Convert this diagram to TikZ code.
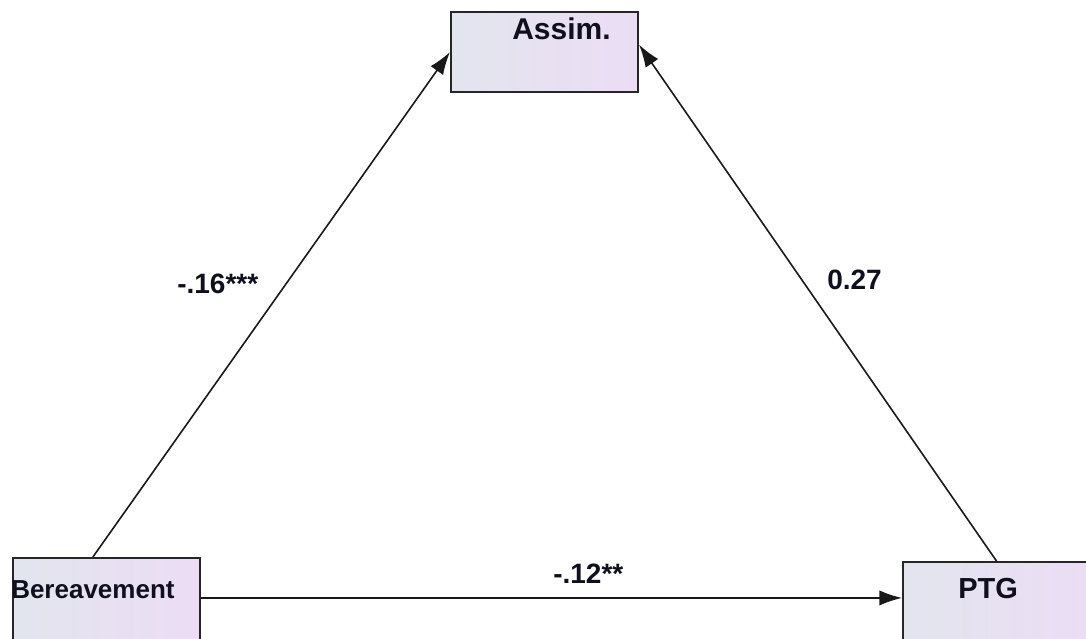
\documentclass[tikz,border=0pt]{standalone}
\usepackage{fontspec}
\setmainfont{Liberation Sans}
\usetikzlibrary{calc,arrows.meta}
\definecolor{boxleft}{RGB}{226,229,238}
\definecolor{boxright}{RGB}{236,221,245}
\definecolor{txt}{RGB}{15,15,30}
\tikzset{
  varbox/.style={draw=black!85, line width=1.5pt, rectangle, inner sep=0pt,
    left color=boxleft, right color=boxright},
  vartext/.style={anchor=base west, inner sep=0pt, text=txt, font=\bfseries},
  coef/.style={anchor=base west, inner sep=0pt, text=txt, font=\fontsize{21}{24}\selectfont\bfseries},
  path/.style={draw=black!90, line width=1.2pt, -{Latex[length=17pt,width=11.5pt]}}
}
\begin{document}
\begin{tikzpicture}[x=0.75pt,y=-0.75pt]
\useasboundingbox (0,0) rectangle (1086,639);
\begin{scope}
\clip (0,0) rectangle (1086,639);
\node[varbox, minimum width=140.25pt, minimum height=60pt] (A) at (544.5,52) {};
\node[varbox, minimum width=140.25pt, minimum height=65.25pt] (B) at (106.5,601.5) {};
\node[varbox, minimum width=140.25pt, minimum height=62.25pt] (P) at (996.5,603.5) {};
\end{scope}
\node[vartext, font=\fontsize{22.5}{26}\selectfont\bfseries] (At) at (512,40) {Assim.};
\node[vartext, font=\fontsize{19.5}{23}\selectfont\bfseries] (Bt) at (11,598) {Bereavement};
\node[vartext, font=\fontsize{21.75}{25}\selectfont\bfseries] (Pt) at (958,598) {PTG};
\coordinate (Bs) at ($(B.north west)!0.428!(B.north east)$);
\coordinate (Ae) at ($(A.north east)!0.41!(A.south east)$);
\coordinate (Bh) at ($(B.north east)!0.46!(B.south east)$);
\draw[path] (Bs) -- (A.west);
\draw[path] (P.north) -- (Ae);
\draw[path] (Bh) -- (P.west |- Bh);
\node[coef] (c1) at (177,293) {-.16***};
\node[coef] (c2) at (827,289) {0.27};
\node[coef] (c3) at (553,583) {-.12**};
\end{tikzpicture}
\end{document}
